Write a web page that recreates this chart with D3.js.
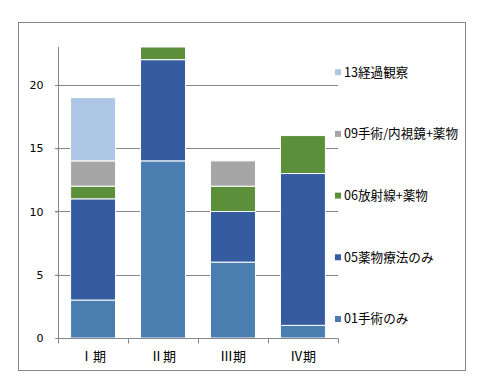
<!DOCTYPE html>
<meta charset="utf-8">
<style>
  body { margin: 0; background: #fff; }
  svg { display: block; }
</style>
<svg width="491" height="378"></svg>
<script src="https://d3js.org/d3.v7.min.js"></script>
<script>
// 病期ごとの治療内容 (人数)
var stages = ["Ⅰ期", "Ⅱ期", "Ⅲ期", "Ⅳ期"];
var seriesNames = ["01手術のみ", "05薬物療法のみ", "06放射線+薬物", "09手術/内視鏡+薬物", "13経過観察"];
var s01 = [3, 14, 6, 1];
var s05 = [8, 8, 4, 12];
var s06 = [1, 1, 2, 3];
var s09 = [2, 0, 2, 0];
var s13 = [5, 0, 0, 0];
var colors = ["#4a7eb0", "#355ca0", "#5b8f3a", "#a6a6a6", "#adc6e5"];
var yTicks = [0, 5, 10, 15, 20];

var svg = d3.select("svg");
var margin = {left: 58, top: 47, right: 338, bottom: 338};

// 外枠
svg.append("rect")
    .attr("x", 18.5).attr("y", 22.5)
    .attr("width", 447).attr("height", 348)
    .attr("fill", "none").attr("stroke", "#868686");

var x = d3.scaleBand().domain(stages).range([margin.left, margin.right]).paddingInner(0.357).paddingOuter(0.18);
var y = d3.scaleLinear().domain([0, 23]).range([margin.bottom, margin.top]);

var table = stages.map(function(s, i) {
  return {stage: s, a: s01[i], b: s05[i], c: s06[i], d: s09[i], e: s13[i]};
});
var keys = ["a", "b", "c", "d", "e"];
var stacked = d3.stack().keys(keys)(table);

// グリッド線
svg.append("g").selectAll("line")
  .data(yTicks.slice(1))
  .join("line")
    .attr("x1", margin.left - 3).attr("x2", margin.right)
    .attr("y1", function(d) { return Math.round(y(d)) + 0.5; })
    .attr("y2", function(d) { return Math.round(y(d)) + 0.5; })
    .attr("stroke", "#868686");

// 棒
svg.append("g").selectAll("g")
  .data(stacked)
  .join("g")
    .attr("fill", function(d, i) { return colors[i]; })
  .selectAll("rect")
  .data(function(d) { return d.filter(function(p) { return p[1] > p[0]; }); })
  .join("rect")
    .attr("x", function(d) { return x(d.data.stage); })
    .attr("width", x.bandwidth())
    .attr("y", function(d) { return y(d[1]); })
    .attr("height", function(d) { return y(d[0]) - y(d[1]); })
    .attr("stroke", "#fff")
    .attr("stroke-width", 1);

// y軸
var yAxis = svg.append("g")
    .attr("transform", "translate(" + (margin.left + 0.5) + ",0)")
    .call(d3.axisLeft(y).tickValues(yTicks).tickSize(3).tickPadding(12));
yAxis.select(".domain").attr("stroke", "#868686").attr("d", "M-3," + (y(0) + 0.5) + "H0V" + margin.top);
yAxis.selectAll(".tick line").attr("stroke", "#868686");
yAxis.selectAll("text").attr("fill", "#000").style("font-family", "DejaVu Sans").style("font-size", "11px");

// x軸
var xAxisG = svg.append("g").attr("transform", "translate(0," + (Math.round(y(0)) + 0.5) + ")");
xAxisG.append("line")
    .attr("x1", margin.left).attr("x2", margin.right)
    .attr("stroke", "#868686");
xAxisG.selectAll(".tk")
  .data(d3.range(stages.length + 1))
  .join("line")
    .attr("x1", function(i) { return Math.round(margin.left + i * (margin.right - margin.left) / stages.length) + 0.5; })
    .attr("x2", function(i) { return Math.round(margin.left + i * (margin.right - margin.left) / stages.length) + 0.5; })
    .attr("y1", 0).attr("y2", 5)
    .attr("stroke", "#868686");
xAxisG.selectAll("text")
  .data(stages)
  .join("text")
    .attr("x", function(d) { return x(d) + x.bandwidth() / 2; })
    .attr("y", 22)
    .attr("text-anchor", "middle")
    .style("font-family", "Noto Sans CJK JP")
    .style("font-size", "13px")
    .text(function(d) { return d; });

// 凡例 (上から13, 09, 06, 05, 01)
var legend = svg.append("g").selectAll("g")
  .data(seriesNames.map(function(n, i) { return {name: n, color: colors[i], idx: i}; }))
  .join("g")
    .attr("transform", function(d) { return "translate(335," + (319 - d.idx * 61.7) + ")"; });
legend.append("rect")
    .attr("x", 0).attr("y", -3).attr("width", 6).attr("height", 6)
    .attr("fill", function(d) { return d.color; });
legend.append("text")
    .attr("x", 9).attr("dy", "0.35em")
    .style("font-family", "Noto Sans CJK JP")
    .style("font-size", "12.6px")
    .text(function(d) { return d.name; });
</script>
